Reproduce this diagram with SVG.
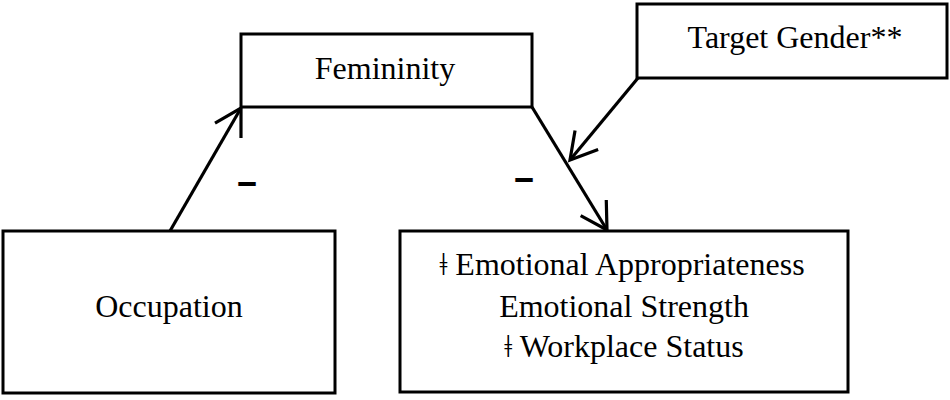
<svg xmlns="http://www.w3.org/2000/svg" width="950" height="400" viewBox="0 0 950 400">
<style>
.box{fill:#fff;stroke:#000;stroke-width:3}
.lbl{font-family:"Liberation Serif","Times New Roman",serif;font-size:32px;fill:#000;text-anchor:middle}
.conn{stroke:#000;stroke-width:3.2;fill:none}
.sign{font-family:"Liberation Serif","Times New Roman",serif;font-size:30px;font-weight:bold;fill:#000;stroke:#000;stroke-width:2;text-anchor:middle}
</style>
<defs>
<marker id="arr" markerUnits="userSpaceOnUse" markerWidth="40" markerHeight="40" viewBox="-30 -20 34 40" refX="0" refY="0" orient="auto">
<path d="M-26,-15 L0,0 L-26,15" fill="none" stroke="#000" stroke-width="3.2" stroke-linejoin="miter"/>
</marker>
</defs>
<rect width="950" height="400" fill="#fff"/>
<g id="connectors">
<line class="conn" x1="170" y1="231" x2="241" y2="108" marker-end="url(#arr)"/>
<line class="conn" x1="532" y1="107" x2="607" y2="230" marker-end="url(#arr)"/>
<line class="conn" x1="638" y1="78" x2="570" y2="160" marker-end="url(#arr)"/>
<text class="sign" x="247" y="191">–</text>
<text class="sign" x="524" y="187">–</text>
</g>
<g id="femininity">
<rect class="box" x="241" y="34" width="291" height="73"/>
<text class="lbl" x="385" y="79">Femininity</text>
</g>
<g id="target-gender">
<rect class="box" x="637" y="4" width="310" height="74"/>
<text class="lbl" x="795" y="48">Target Gender**</text>
</g>
<g id="occupation">
<rect class="box" x="3" y="231" width="332" height="162"/>
<text class="lbl" x="169" y="317">Occupation</text>
</g>
<g id="outcomes">
<rect class="box" x="400" y="231" width="448" height="161"/>
<text class="lbl" x="622" y="275">ǂ Emotional Appropriateness</text>
<text class="lbl" x="624" y="317">Emotional Strength</text>
<text class="lbl" x="624" y="357">ǂ Workplace Status</text>
</g>
</svg>
